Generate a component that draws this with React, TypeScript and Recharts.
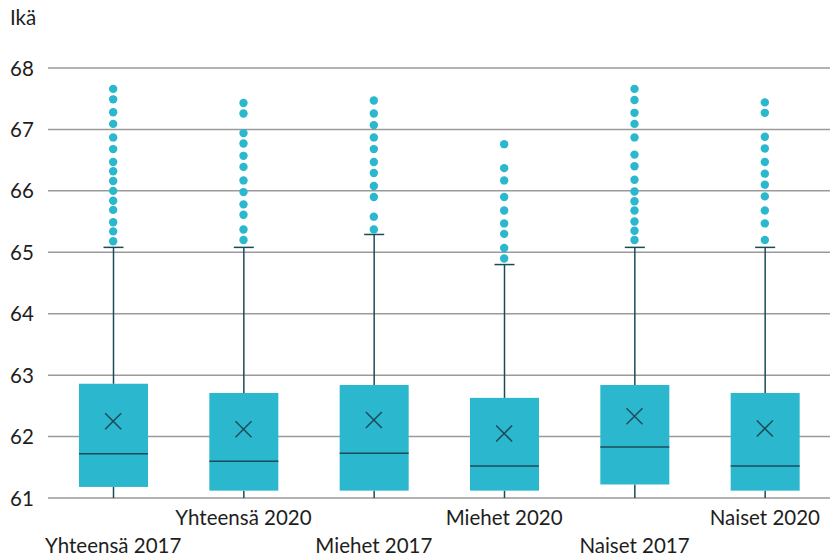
import {
  ComposedChart,
  Bar,
  Scatter,
  XAxis,
  YAxis,
  CartesianGrid,
} from 'recharts';

const categories = ['Yhteensä 2017', 'Yhteensä 2020', 'Miehet 2017', 'Miehet 2020', 'Naiset 2017', 'Naiset 2020'];
const minValues = [61.0, 61.0, 61.0, 61.0, 61.0, 61.0];
const q1Values = [61.18, 61.12, 61.12, 61.12, 61.22, 61.12];
const medianValues = [61.72, 61.6, 61.73, 61.52, 61.83, 61.52];
const q3Values = [62.86, 62.71, 62.84, 62.63, 62.84, 62.71];
const maxValues = [65.08, 65.08, 65.29, 64.8, 65.08, 65.08];
const meanValues = [62.25, 62.12, 62.27, 62.05, 62.33, 62.13];
const outliers = [
  [67.66, 67.49, 67.28, 67.09, 66.87, 66.68, 66.47, 66.32, 66.16, 66.0, 65.84, 65.69, 65.49, 65.34, 65.18],
  [67.43, 67.26, 66.94, 66.77, 66.57, 66.39, 66.17, 65.98, 65.78, 65.61, 65.37, 65.2],
  [67.47, 67.26, 67.07, 66.87, 66.68, 66.47, 66.29, 66.08, 65.9, 65.58, 65.37],
  [66.76, 66.37, 66.17, 65.9, 65.68, 65.47, 65.3, 65.07, 64.9],
  [67.66, 67.48, 67.27, 67.09, 66.87, 66.59, 66.4, 66.18, 65.99, 65.83, 65.68, 65.5, 65.35, 65.2],
  [67.44, 67.27, 66.88, 66.69, 66.47, 66.28, 66.1, 65.91, 65.68, 65.47, 65.2],
];
const yTicks = [61, 62, 63, 64, 65, 66, 67, 68];

const maxOutliers = Math.max(...outliers.map((o) => o.length));
const outlierKeys = Array.from({ length: maxOutliers }, (_, i) => `o${i}`);

const data = categories.map((name, i) => {
  const row: Record<string, any> = {
    name,
    base: minValues[i],
    lowWhisker: q1Values[i] - minValues[i],
    lowBox: medianValues[i] - q1Values[i],
    highBox: q3Values[i] - medianValues[i],
    highWhisker: maxValues[i] - q3Values[i],
    mean: meanValues[i],
  };
  outliers[i].forEach((v, j) => {
    row[`o${j}`] = v;
  });
  return row;
});

const FONT = 'Lato, "Open Sans", sans-serif';
const BOX = '#2bb7ce';
const DARK = '#1c4b58';
const TEXT = '#1e1e1e';

const Whisker = (props: any) => {
  const { x, y, width, height } = props;
  const cx = x + width / 2;
  return <line x1={cx} x2={cx} y1={y} y2={y + height} stroke={DARK} strokeWidth={1.5} />;
};

const TopWhisker = (props: any) => {
  const { x, y, width, height } = props;
  const cx = x + width / 2;
  return (
    <g>
      <line x1={cx} x2={cx} y1={y} y2={y + height} stroke={DARK} strokeWidth={1.5} />
      <line x1={cx - 10} x2={cx + 10} y1={y} y2={y} stroke={DARK} strokeWidth={1.5} />
    </g>
  );
};

const LowBox = (props: any) => {
  const { x, y, width, height } = props;
  return <rect x={x} y={y} width={width} height={height} fill={BOX} />;
};

const HighBox = (props: any) => {
  const { x, y, width, height } = props;
  return (
    <g>
      <rect x={x} y={y} width={width} height={height} fill={BOX} />
      <line x1={x} x2={x + width} y1={y + height} y2={y + height} stroke={DARK} strokeWidth={1.5} />
    </g>
  );
};

const MeanMark = (props: any) => {
  const { cx, cy } = props;
  if (!Number.isFinite(cx) || !Number.isFinite(cy)) return null;
  const s = 8;
  return (
    <g stroke={DARK} strokeWidth={1.5}>
      <line x1={cx - s} y1={cy - s} x2={cx + s} y2={cy + s} />
      <line x1={cx - s} y1={cy + s} x2={cx + s} y2={cy - s} />
    </g>
  );
};

const OutlierDot = (props: any) => {
  const { cx, cy } = props;
  if (!Number.isFinite(cx) || !Number.isFinite(cy)) return null;
  return <circle cx={cx} cy={cy} r={4.2} fill={BOX} />;
};

const YTick = (props: any) => {
  const { y, payload } = props;
  return (
    <text x={10} y={y} dy={7.5} textAnchor="start" fontSize={20.5} fill={TEXT} fontFamily={FONT}>
      {payload.value}
    </text>
  );
};

const XTick = (props: any) => {
  const { x, y, payload, index } = props;
  const row = index % 2 === 0 ? 1 : 0;
  return (
    <text x={x} y={y + 19 + row * 28} textAnchor="middle" fontSize={20.5} fill={TEXT} fontFamily={FONT}>
      {payload.value}
    </text>
  );
};

export default function App() {
  return (
    <div style={{ width: 830, height: 558, background: '#fff', position: 'relative', fontFamily: FONT }}>
      <style>{'body{margin:0}'}</style>
      <div style={{ position: 'absolute', left: 10, top: 5, fontSize: 20.5, color: TEXT }}>Ikä</div>
      <ComposedChart
        width={830}
        height={558}
        data={data}
        margin={{ top: 68, right: 0, left: 0, bottom: 0 }}
      >
        <CartesianGrid vertical={false} stroke="#9a9a9a" strokeWidth={1.5} />
        <XAxis
          dataKey="name"
          axisLine={false}
          tickLine={false}
          interval={0}
          height={60}
          tick={<XTick />}
        />
        <YAxis
          domain={[61, 68]}
          ticks={yTicks}
          allowDataOverflow
          axisLine={false}
          tickLine={false}
          width={48}
          tick={<YTick />}
        />
        <Bar dataKey="base" stackId="box" fill="none" barSize={69} isAnimationActive={false} />
        <Bar dataKey="lowWhisker" stackId="box" shape={<Whisker />} barSize={69} isAnimationActive={false} />
        <Bar dataKey="lowBox" stackId="box" shape={<LowBox />} barSize={69} isAnimationActive={false} />
        <Bar dataKey="highBox" stackId="box" shape={<HighBox />} barSize={69} isAnimationActive={false} />
        <Bar dataKey="highWhisker" stackId="box" shape={<TopWhisker />} barSize={69} isAnimationActive={false} />
        <Scatter dataKey="mean" shape={<MeanMark />} isAnimationActive={false} />
        {outlierKeys.map((k) => (
          <Scatter key={k} dataKey={k} shape={<OutlierDot />} isAnimationActive={false} />
        ))}
      </ComposedChart>
    </div>
  );
}
